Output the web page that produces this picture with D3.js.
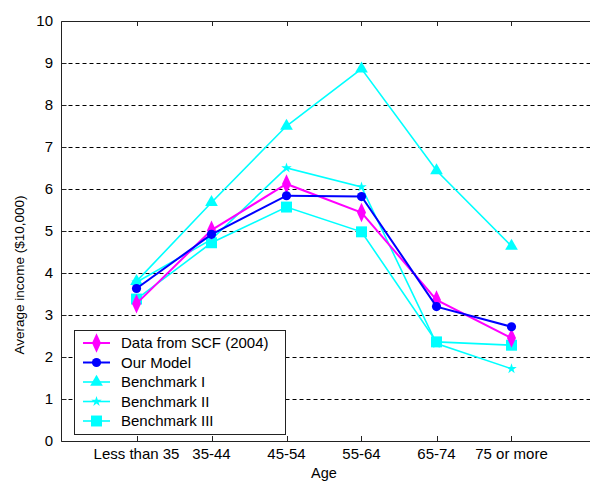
<!DOCTYPE html>
<html><head><meta charset="utf-8">
<script src="https://cdn.jsdelivr.net/npm/d3@7"></script>
<style>body{margin:0;background:#fff}svg{display:block}text{font-family:"Liberation Sans",Arial,sans-serif;fill:#000}</style>
</head><body><svg id="c" width="590" height="483"></svg>
<script>
const categories = ["Less than 35","35-44","45-54","55-64","65-74","75 or more"];
const yTicks = [0,1,2,3,4,5,6,7,8,9,10];
const scf = [3.27, 5.02, 6.12, 5.44, 3.36, 2.45];
const ourModel = [3.63, 4.92, 5.84, 5.82, 3.2, 2.72];
const bench1 = [3.8, 5.68, 7.5, 8.86, 6.44, 4.64];
const bench2 = [3.78, 4.8, 6.5, 6.05, 2.32, 1.72];
const bench3 = [3.38, 4.72, 5.57, 4.98, 2.36, 2.28];
const seriesNames = ["Data from SCF (2004)","Our Model","Benchmark I","Benchmark II","Benchmark III"];
const seriesColors = ["#ff00ff","#0000ff","#00ffff","#00ffff","#00ffff"];

const series = [
  {name:seriesNames[0], values:scf, color:seriesColors[0], sym:"diamond", lw:2},
  {name:seriesNames[1], values:ourModel, color:seriesColors[1], sym:"circle", lw:2},
  {name:seriesNames[2], values:bench1, color:seriesColors[2], sym:"triangle", lw:1.6},
  {name:seriesNames[3], values:bench2, color:seriesColors[3], sym:"star", lw:1.6},
  {name:seriesNames[4], values:bench3, color:seriesColors[4], sym:"square", lw:1.6}
];

const svg = d3.select("#c");
const L = 61.5, R = 586.5, T = 21, B = 441;
const x = d3.scaleLinear().domain([0,7]).range([L,R]);
const y = d3.scaleLinear().domain([0,10]).range([B,T]);

svg.append("g").selectAll("line").data(yTicks.filter(d=>d>0&&d<10)).join("line")
  .attr("x1",L).attr("x2",592).attr("y1",d=>Math.round(y(d))+0.5).attr("y2",d=>Math.round(y(d))+0.5)
  .attr("stroke","#000").attr("stroke-width",1).attr("stroke-dasharray","4,3");

svg.append("path").attr("d",`M592,${T+0.5}H${L}V${B+0.5}H592`).attr("fill","none").attr("stroke","#222").attr("stroke-width",1);

const xt = d3.range(1,7);
svg.append("g").selectAll("line").data(xt).join("line")
  .attr("x1",d=>Math.round(x(d))+0.5).attr("x2",d=>Math.round(x(d))+0.5).attr("y1",B).attr("y2",B-5).attr("stroke","#222");
svg.append("g").selectAll("line").data(xt).join("line")
  .attr("x1",d=>Math.round(x(d))+0.5).attr("x2",d=>Math.round(x(d))+0.5).attr("y1",T).attr("y2",T+5).attr("stroke","#222");
svg.append("g").selectAll("line").data(yTicks).join("line")
  .attr("x1",L).attr("x2",L+5).attr("y1",d=>Math.round(y(d))+0.5).attr("y2",d=>Math.round(y(d))+0.5).attr("stroke","#222");

svg.append("g").selectAll("text").data(yTicks).join("text")
  .attr("x",53).attr("y",d=>y(d)).attr("dy","0.36em").attr("text-anchor","end")
  .style("font-size","15px").text(d=>d);
svg.append("g").selectAll("text").data(categories).join("text")
  .attr("x",(d,i)=>x(i+1)).attr("y",459).attr("text-anchor","middle")
  .style("font-size","15px").text(d=>d);
svg.append("text").attr("x",324).attr("y",478).attr("text-anchor","middle").style("font-size","14.5px").text("Age");
svg.append("text").attr("transform","translate(24,275) rotate(-90)").attr("text-anchor","middle")
  .style("font-size","13.5px").text("Average income ($10,000)");

const symMap = {
  diamond: {p: d3.symbol().type(d3.symbolDiamond).size(70)(), t:"scale(1,1.25)"},
  circle: {p: d3.symbol().type(d3.symbolCircle).size(66)(), t:""},
  triangle: {p: d3.symbol().type(d3.symbolTriangle).size(70)(), t:""},
  star: {p: d3.symbol().type(d3.symbolStar).size(34)(), t:""},
  square: {p: d3.symbol().type(d3.symbolSquare).size(120)(), t:""}
};

const line = d3.line().x((d,i)=>x(i+1)).y(d=>y(d));
const order = [2,3,4,0,1];
order.forEach(k=>{
  const s = series[k];
  const g = svg.append("g");
  g.append("path").attr("d",line(s.values)).attr("fill","none").attr("stroke",s.color).attr("stroke-width",s.lw);
  g.selectAll("path.m").data(s.values).join("path").attr("class","m")
    .attr("transform",(d,i)=>`translate(${x(i+1)},${y(d)}) ${symMap[s.sym].t}`)
    .attr("d",symMap[s.sym].p).attr("fill",s.color);
});

const lg = svg.append("g");
lg.append("rect").attr("x",74.5).attr("y",330.5).attr("width",211).attr("height",104)
  .attr("fill","#fff").attr("stroke","#222");
series.forEach((s,i)=>{
  const yy = 343 + i*19.5;
  lg.append("line").attr("x1",83).attr("x2",110).attr("y1",yy).attr("y2",yy).attr("stroke",s.color).attr("stroke-width",s.lw);
  lg.append("path").attr("transform",`translate(96.5,${yy}) ${symMap[s.sym].t}`).attr("d",symMap[s.sym].p).attr("fill",s.color);
  lg.append("text").attr("x",121).attr("y",yy).attr("dy","0.36em").style("font-size","15px").text(s.name);
});
</script></body></html>
